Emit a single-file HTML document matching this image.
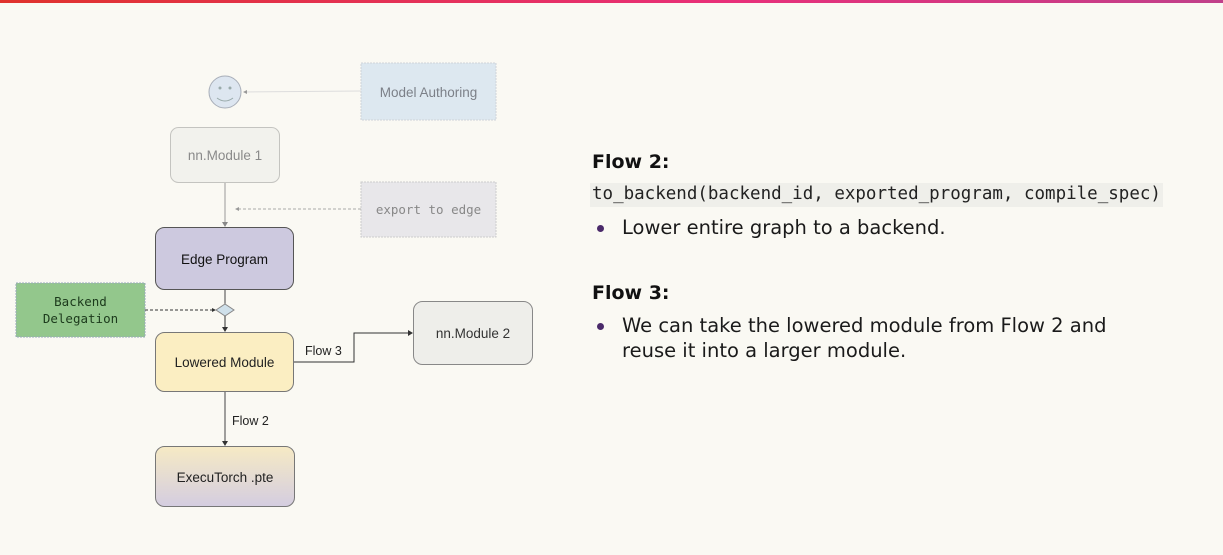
<!DOCTYPE html>
<html><head><meta charset="utf-8"><style>
html,body{margin:0;padding:0}
body{width:1223px;height:555px;background:#faf9f3;position:relative;overflow:hidden;font-family:"Liberation Sans",sans-serif}
.bar{position:absolute;left:0;top:0;width:1223px;height:3px;background:linear-gradient(90deg,#e0322c,#e8307a 60%,#c0408a)}
.t{position:absolute;white-space:nowrap;line-height:1}
.h{font-family:"DejaVu Sans",sans-serif;font-weight:bold;font-size:19px;color:#111}
.p{font-family:"DejaVu Sans",sans-serif;font-size:19.5px;color:#1a1a1a}
.code{font-family:"DejaVu Sans Mono",monospace;font-size:17.5px;color:#222;background:#efefea;padding:3px 2px}
.dot{position:absolute;width:7px;height:7px;border-radius:50%;background:#4a2a6a}
</style></head><body>
<div class="bar"></div>
<svg width="1223" height="555" style="position:absolute;left:0;top:0" font-family="Liberation Sans, sans-serif">
<defs>
<linearGradient id="g1" x1="0" y1="0" x2="0" y2="1"><stop offset="0" stop-color="#f6eac4"/><stop offset="1" stop-color="#d4cde0"/></linearGradient>
</defs>
<circle cx="225" cy="92" r="16" fill="#dde6f0" stroke="#a8aeb8" stroke-width="1"/>
<circle cx="220" cy="88" r="1.5" fill="#9aa"/><circle cx="230" cy="88" r="1.5" fill="#9aa"/>
<path d="M217 98 Q225 104 233 98" fill="none" stroke="#9aa" stroke-width="1"/>
<line x1="361" y1="91" x2="244" y2="92" stroke="#ddd" stroke-width="1"/>
<path d="M243 92 l4 -2 v4z" fill="#999"/>
<rect x="361" y="63" width="135" height="57" fill="#dde8f0" stroke="#d0d4d8" stroke-dasharray="2 1"/>
<text x="428.5" y="97" font-size="13.5" fill="#7c8088" text-anchor="middle">Model Authoring</text>
<rect x="170.5" y="127.5" width="109" height="55" rx="8" fill="#f2f2ed" stroke="#c4c4c0"/>
<text x="225" y="160" font-size="13.5" fill="#8a8a8a" text-anchor="middle">nn.Module 1</text>
<line x1="225" y1="183" x2="225" y2="225" stroke="#999"/>
<path d="M225 227 l-3 -5 h6z" fill="#888"/>
<rect x="361" y="182" width="135" height="55" fill="#e8e7ea" stroke="#ccc" stroke-dasharray="2 1"/>
<text x="428.5" y="214" font-size="12.5" font-family="DejaVu Sans Mono, monospace" fill="#888" text-anchor="middle">export to edge</text>
<line x1="361" y1="209" x2="237" y2="209" stroke="#aaa" stroke-dasharray="3 2"/>
<path d="M235 209 l4 -2 v4z" fill="#999"/>
<rect x="155.5" y="227.5" width="138" height="62" rx="9" fill="#cdc9df" stroke="#555"/>
<text x="224.5" y="264" font-size="13.5" fill="#111" text-anchor="middle">Edge Program</text>
<line x1="225" y1="290" x2="225" y2="304" stroke="#444"/>
<rect x="16" y="283" width="129" height="54" fill="#93c78c" stroke="#9ab" stroke-dasharray="2 1"/>
<text x="80.5" y="306" font-size="12.5" font-family="DejaVu Sans Mono, monospace" fill="#1c3a1c" text-anchor="middle">Backend</text>
<text x="80.5" y="323" font-size="12.5" font-family="DejaVu Sans Mono, monospace" fill="#1c3a1c" text-anchor="middle">Delegation</text>
<line x1="145" y1="310" x2="214" y2="310" stroke="#333" stroke-dasharray="3 2"/>
<path d="M216 310 l-4 -2 v4z" fill="#333"/>
<path d="M216 310 L225 304 L234 310 L225 316Z" fill="#cfe0ea" stroke="#888"/>
<line x1="225" y1="316" x2="225" y2="330" stroke="#333"/>
<path d="M225 332 l-3 -5 h6z" fill="#333"/>
<rect x="155.5" y="332.5" width="138" height="59" rx="9" fill="#fbeec2" stroke="#777"/>
<text x="224.5" y="367" font-size="13.5" fill="#222" text-anchor="middle">Lowered Module</text>
<polyline points="294,362 354,362 354,333 409,333" fill="none" stroke="#333"/>
<path d="M413 333 l-5 -3 v6z" fill="#333"/>
<text x="305" y="355" font-size="12.5" fill="#222">Flow 3</text>
<rect x="413.5" y="301.5" width="119" height="63" rx="9" fill="#eeeeea" stroke="#888"/>
<text x="473" y="338" font-size="13.5" fill="#333" text-anchor="middle">nn.Module 2</text>
<line x1="225" y1="392" x2="225" y2="442" stroke="#444"/>
<path d="M225 446 l-3 -5 h6z" fill="#333"/>
<text x="232" y="425" font-size="12.5" fill="#222">Flow 2</text>
<rect x="155.5" y="446.5" width="139" height="60" rx="9" fill="url(#g1)" stroke="#777"/>
<text x="225" y="482" font-size="13.5" fill="#222" text-anchor="middle">ExecuTorch .pte</text>
</svg>
<div class="t h" style="left:592px;top:153px">Flow 2:</div>
<div class="t code" style="left:590px;top:183px">to_backend(backend_id, exported_program, compile_spec)</div>
<div class="dot" style="left:597px;top:225px"></div>
<div class="t p" style="left:622px;top:218px">Lower entire graph to a backend.</div>
<div class="t h" style="left:592px;top:284px">Flow 3:</div>
<div class="dot" style="left:597px;top:323px"></div>
<div class="t p" style="left:622px;top:316px">We can take the lowered module from Flow 2 and</div>
<div class="t p" style="left:622px;top:341px">reuse it into a larger module.</div>
</body></html>
